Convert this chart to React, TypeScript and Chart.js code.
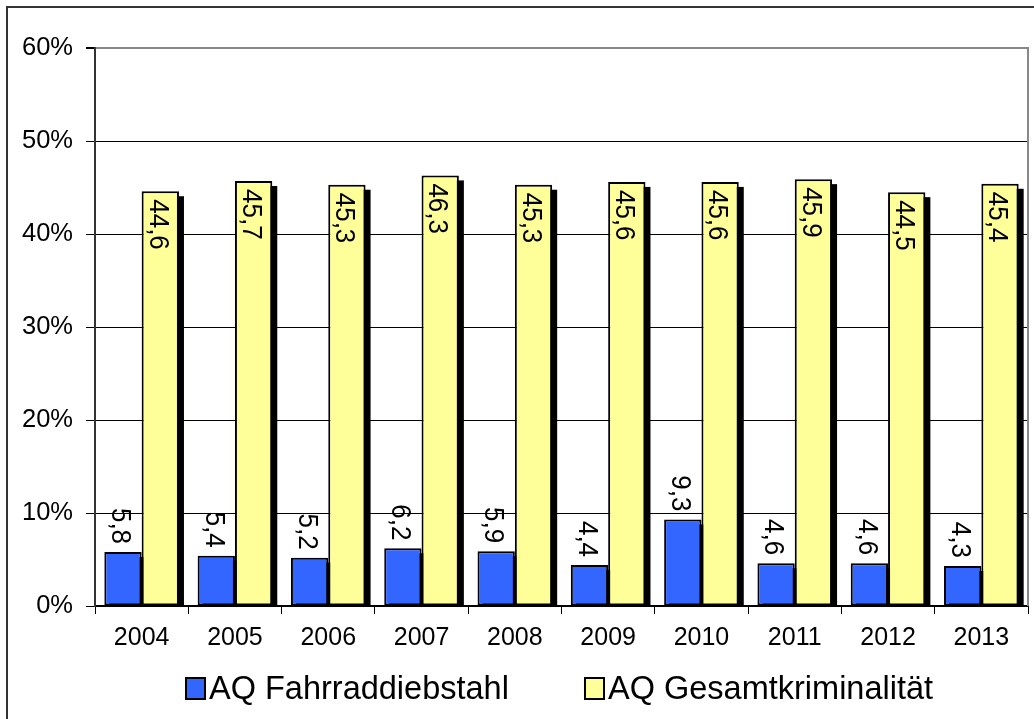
import React, { useEffect, useRef } from 'react';
import { Chart, registerables } from 'chart.js';

Chart.register(...registerables);

const years = ['2004', '2005', '2006', '2007', '2008', '2009', '2010', '2011', '2012', '2013'];
const fahrraddiebstahl = [5.8, 5.4, 5.2, 6.2, 5.9, 4.4, 9.3, 4.6, 4.6, 4.3];
const gesamtkriminalitaet = [44.6, 45.7, 45.3, 46.3, 45.3, 45.6, 45.6, 45.9, 44.5, 45.4];
const seriesNames = ['AQ Fahrraddiebstahl', 'AQ Gesamtkriminalität'];
const seriesColors = ['#3366FF', '#FFFF99'];
const yMin = 0;
const yMax = 60;
const yStep = 10;

const FONT = '"Liberation Sans", Arial, sans-serif';

const framePlugin = {
  id: 'frame',
  beforeDraw(chart: any) {
    const ctx = chart.ctx;
    ctx.save();
    ctx.fillStyle = '#fff';
    ctx.fillRect(0, 0, chart.width, chart.height);
    ctx.strokeStyle = '#333';
    ctx.lineWidth = 2;
    ctx.beginPath();
    ctx.moveTo(7, chart.height + 10);
    ctx.lineTo(7, 7);
    ctx.lineTo(chart.width + 10, 7);
    ctx.stroke();
    ctx.restore();
  },
};

const shadowPlugin = {
  id: 'shadow',
  beforeDatasetsDraw(chart: any) {
    const ctx = chart.ctx;
    const area = chart.chartArea;
    ctx.save();
    ctx.beginPath();
    ctx.rect(area.left, area.top, area.right - area.left, area.bottom - area.top);
    ctx.clip();
    ctx.fillStyle = '#000';
    chart.data.datasets.forEach((_ds: any, di: number) => {
      const meta = chart.getDatasetMeta(di);
      meta.data.forEach((el: any) => {
        const p = el.getProps(['x', 'y', 'base', 'width'], true);
        const left = p.x - p.width / 2;
        ctx.fillRect(left + 5, p.y + 5, p.width, p.base - p.y);
      });
    });
    ctx.restore();
  },
};

const labelPlugin = {
  id: 'labels',
  afterDatasetsDraw(chart: any) {
    const ctx = chart.ctx;
    const area = chart.chartArea;
    ctx.save();
    ctx.strokeStyle = '#888';
    ctx.lineWidth = 2;
    ctx.beginPath();
    ctx.moveTo(area.right, area.top - 1);
    ctx.lineTo(area.right, area.bottom);
    ctx.stroke();
    ctx.restore();

    chart.data.datasets.forEach((ds: any, di: number) => {
      const meta = chart.getDatasetMeta(di);
      meta.data.forEach((el: any, i: number) => {
        const p = el.getProps(['x', 'y'], true);
        const txt = Number(ds.data[i]).toFixed(1).replace('.', ',');
        ctx.save();
        ctx.translate(p.x - 3, di === 0 ? p.y - 8 : p.y + 8);
        ctx.rotate(Math.PI / 2);
        ctx.scale(1, 1.08);
        ctx.font = `26px ${FONT}`;
        ctx.fillStyle = '#000';
        ctx.textBaseline = 'middle';
        ctx.textAlign = di === 0 ? 'right' : 'left';
        ctx.fillText(txt, 0, 0);
        ctx.restore();
      });
    });
  },
};

const legendPlugin = {
  id: 'customLegend',
  afterDraw(chart: any) {
    const ctx = chart.ctx;
    const boxes = [
      { x: 186, textX: 209 },
      { x: 585, textX: 608 },
    ];
    ctx.save();
    ctx.font = `32.5px ${FONT}`;
    ctx.textBaseline = 'alphabetic';
    ctx.textAlign = 'left';
    seriesNames.forEach((name, i) => {
      const b = boxes[i];
      ctx.fillStyle = seriesColors[i];
      ctx.fillRect(b.x, 678, 19, 21);
      ctx.strokeStyle = '#000';
      ctx.lineWidth = 2;
      ctx.strokeRect(b.x, 678, 19, 21);
      ctx.fillStyle = '#000';
      ctx.fillText(name, b.textX, 698.5);
    });
    ctx.restore();
  },
};

export default function App() {
  const ref = useRef<HTMLCanvasElement | null>(null);

  useEffect(() => {
    if (!ref.current) return;
    Chart.defaults.font.family = FONT;
    const chart = new Chart(ref.current, {
      type: 'bar',
      data: {
        labels: years,
        datasets: [
          {
            label: seriesNames[0],
            data: fahrraddiebstahl,
            backgroundColor: seriesColors[0],
            borderColor: '#000',
            borderWidth: 2,
            borderSkipped: false,
            categoryPercentage: 0.8,
            barPercentage: 1.0,
          },
          {
            label: seriesNames[1],
            data: gesamtkriminalitaet,
            backgroundColor: seriesColors[1],
            borderColor: '#000',
            borderWidth: 2,
            borderSkipped: false,
            categoryPercentage: 0.8,
            barPercentage: 1.0,
          },
        ],
      },
      options: {
        responsive: false,
        animation: false,
        devicePixelRatio: 1,
        layout: { padding: { top: 48, right: 6, left: 0, bottom: 0 } },
        plugins: {
          legend: { display: false },
          tooltip: { enabled: false },
        },
        scales: {
          x: {
            grid: {
              offset: true,
              drawOnChartArea: false,
              drawTicks: true,
              tickLength: 8,
              color: '#000',
              lineWidth: 1,
            },
            border: { display: true, color: '#000', width: 2 },
            ticks: {
              color: '#000',
              font: { size: 25, family: FONT },
              padding: 9,
              maxRotation: 0,
            },
            afterFit: (scale: any) => {
              scale.height = 113;
            },
          },
          y: {
            min: yMin,
            max: yMax,
            ticks: {
              stepSize: yStep,
              color: '#000',
              font: { size: 25.5, family: FONT },
              padding: 13,
              callback: (v: any) => `${v}%`,
            },
            grid: {
              color: (c: any) => (c.tick && c.tick.value === yMax ? '#888' : '#000'),
              lineWidth: (c: any) => (c.tick && c.tick.value === yMax ? 2 : 1),
              tickColor: '#000',
              tickLength: 9,
              drawTicks: true,
            },
            border: { display: true, color: '#333', width: 2 },
            afterFit: (scale: any) => {
              scale.width = 95;
            },
          },
        },
      },
      plugins: [framePlugin, shadowPlugin, labelPlugin, legendPlugin],
    } as any);
    return () => chart.destroy();
  }, []);

  return (
    <div style={{ position: 'absolute', left: 0, top: 0, width: 1034, height: 719 }}>
      <canvas ref={ref} width={1034} height={719} style={{ display: 'block' }} />
    </div>
  );
}
